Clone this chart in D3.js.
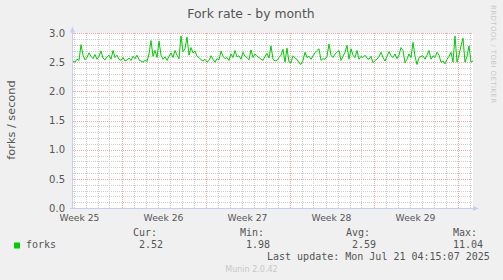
<!DOCTYPE html>
<html>
<head>
<meta charset="utf-8">
<script src="https://cdn.jsdelivr.net/npm/d3@7"></script>
<style>
  body { margin: 0; background: #f0f0f0; }
  svg { display: block; }
  text { font-family: "DejaVu Sans", sans-serif; fill: #555; }
  .mono { font-family: "DejaVu Sans Mono", monospace; }
</style>
</head>
<body>
<div id="chart"></div>
<script>
// fork rate, one value every 4 hours starting Jun 18 23:00 UTC
var forks = [
  2.52,2.50,2.55,2.53,2.80,2.62,2.54,2.58,2.66,2.60,
  2.56,2.63,2.55,2.60,2.69,2.57,2.54,2.59,2.62,2.55,
  2.70,2.58,2.62,2.55,2.53,2.58,2.52,2.54,2.57,2.53,
  2.60,2.56,2.62,2.54,2.52,2.50,2.53,2.51,2.64,2.87,
  2.60,2.70,2.58,2.86,2.62,2.55,2.59,2.53,2.60,2.66,
  2.58,2.70,2.62,2.56,2.95,2.68,2.73,2.93,2.62,2.75,
  2.66,2.69,2.60,2.58,2.54,2.52,2.55,2.50,2.53,2.61,
  2.55,2.50,2.56,2.54,2.69,2.60,2.56,2.58,2.53,2.64,
  2.58,2.70,2.59,2.61,2.55,2.67,2.60,2.58,2.54,2.71,
  2.58,2.64,2.60,2.58,2.55,2.53,2.60,2.65,2.57,2.78,
  2.55,2.52,2.53,2.58,2.62,2.72,2.50,2.74,2.50,2.49,
  2.61,2.57,2.55,2.49,2.46,2.53,2.67,2.58,2.60,2.55,
  2.61,2.66,2.70,2.73,2.53,2.56,2.55,2.60,2.81,2.62,
  2.58,2.64,2.67,2.70,2.53,2.60,2.67,2.79,2.55,2.73,
  2.62,2.58,2.70,2.55,2.60,2.58,2.62,2.57,2.55,2.60,
  2.49,2.53,2.55,2.60,2.67,2.58,2.52,2.60,2.68,2.61,
  2.58,2.64,2.56,2.62,2.75,2.70,2.49,2.55,2.64,2.58,
  2.84,2.60,2.46,2.58,2.60,2.61,2.55,2.62,2.70,2.55,
  2.61,2.58,2.67,2.62,2.50,2.52,2.47,2.55,2.60,2.67,
  2.50,2.95,2.50,2.62,2.78,2.91,2.50,2.60,2.78,2.50,
  2.52
];
var yTicks = [0, 0.5, 1.0, 1.5, 2.0, 2.5, 3.0];
var weekLabels = ["Week 25", "Week 26", "Week 27", "Week 28", "Week 29"];
var legendHeads = ["Cur:", "Min:", "Avg:", "Max:"];
var legendValues = ["2.52", "1.98", "2.59", "11.04"];

var start = Date.UTC(2025, 5, 18, 23);
var step = 4 * 3600 * 1000;
var end = start + step * (forks.length - 1);

var svg = d3.select("#chart").append("svg")
  .attr("width", 503)
  .attr("height", 280);

var x = d3.scaleUtc().domain([new Date(start), new Date(end)]).range([73, 473]);
var y = d3.scaleLinear().domain([0, 3]).range([208, 33]);

// plot canvas
svg.append("rect")
  .attr("x", 73).attr("y", 33)
  .attr("width", 400).attr("height", 175)
  .attr("fill", "#fff");

var px = v => Math.round(v) + 0.5;

// minor horizontal grid
var minorY = d3.range(1, 30).filter(i => i % 5 != 0).map(i => i / 10);
svg.selectAll(".hminor").data(minorY).enter().append("line")
  .attr("x1", 73).attr("x2", 473)
  .attr("y1", d => px(y(d))).attr("y2", d => px(y(d)))
  .attr("stroke", "#cfcfcf").attr("stroke-dasharray", "1,1");

// minor vertical grid (days)
var days = d3.utcDay.range(new Date(start), new Date(end)).filter(d => d.getUTCDay() != 1);
svg.selectAll(".vminor").data(days).enter().append("line")
  .attr("x1", d => px(x(d))).attr("x2", d => px(x(d)))
  .attr("y1", 33).attr("y2", 208)
  .attr("stroke", "#cfcfcf").attr("stroke-dasharray", "1,1");

// major grid
svg.selectAll(".hmajor").data(yTicks.slice(1)).enter().append("line")
  .attr("x1", 73).attr("x2", 473)
  .attr("y1", d => px(y(d))).attr("y2", d => px(y(d)))
  .attr("stroke", "#f4a4a4").attr("stroke-dasharray", "1,1");

var mondays = d3.utcMonday.range(new Date(start), new Date(end));
svg.selectAll(".vmajor").data(mondays).enter().append("line")
  .attr("x1", d => px(x(d))).attr("x2", d => px(x(d)))
  .attr("y1", 33).attr("y2", 208)
  .attr("stroke", "#f4a4a4").attr("stroke-dasharray", "1,1");

// y tick labels
svg.selectAll(".ylab").data(yTicks).enter().append("text")
  .attr("x", 65).attr("y", d => y(d) + 3.8)
  .attr("text-anchor", "end")
  .style("font-size", "10px")
  .text(d => d.toFixed(1));

// week labels centred in their week
svg.selectAll(".xlab").data(weekLabels).enter().append("text")
  .attr("x", (d, i) => x(new Date(+d3.utcMonday.offset(mondays[0], i - 1) + 3.5 * 864e5)))
  .attr("y", 221)
  .attr("text-anchor", "middle")
  .style("font-size", "9.2px")
  .text(d => d);

// axes
var axisColor = "#c8cdf4";
svg.append("line").attr("x1", 72.5).attr("x2", 72.5).attr("y1", 30).attr("y2", 208)
  .attr("stroke", axisColor);
svg.append("line").attr("x1", 70).attr("x2", 476).attr("y1", 208.5).attr("y2", 208.5)
  .attr("stroke", axisColor);
svg.append("path").attr("d", "M70,32.5L72.5,26.5L75,32.5Z").attr("fill", axisColor);
svg.append("path").attr("d", "M473,206L479,208.5L473,211Z").attr("fill", axisColor);

// data line
var line = d3.line()
  .x((d, i) => x(new Date(start + i * step)))
  .y(d => y(d));
svg.append("path")
  .datum(forks)
  .attr("d", line)
  .attr("fill", "none")
  .attr("stroke", "#00cc00")
  .attr("stroke-width", 1);

// title
svg.append("text")
  .attr("x", 251).attr("y", 17.5)
  .attr("text-anchor", "middle")
  .style("font-size", "12.4px")
  .text("Fork rate - by month");

// y axis title
svg.append("text")
  .attr("transform", "translate(15,120) rotate(-90)")
  .attr("text-anchor", "middle")
  .style("font-size", "11.3px")
  .text("forks / second");

// watermark
svg.append("text")
  .attr("transform", "translate(491,5) rotate(90)")
  .attr("textLength", 98)
  .attr("lengthAdjust", "spacing")
  .style("font-size", "7px")
  .style("fill", "#c8c8c8")
  .text("RRDTOOL / TOBI OETIKER");

// legend
svg.append("rect")
  .attr("x", 14).attr("y", 242.5).attr("width", 6).attr("height", 6)
  .attr("fill", "#00cc00");
svg.append("text").attr("class", "mono")
  .attr("x", 26).attr("y", 248)
  .style("font-size", "10px")
  .text("forks");

var headX = [133, 240, 346, 453];
var valX = [139, 246, 352, 453];
svg.selectAll(".lhead").data(legendHeads).enter().append("text")
  .attr("class", "mono")
  .attr("x", (d, i) => headX[i]).attr("y", 236)
  .style("font-size", "10px")
  .text(d => d);
svg.selectAll(".lval").data(legendValues).enter().append("text")
  .attr("class", "mono")
  .attr("x", (d, i) => valX[i]).attr("y", 248)
  .style("font-size", "10px")
  .text(d => d);

svg.append("text").attr("class", "mono")
  .attr("x", 267).attr("y", 260)
  .style("font-size", "10px")
  .text("Last update: Mon Jul 21 04:15:07 2025");

svg.append("text")
  .attr("x", 251.5).attr("y", 272)
  .attr("text-anchor", "middle")
  .style("font-size", "8px")
  .style("fill", "#c8c8c8")
  .text("Munin 2.0.42");
</script>
</body>
</html>
